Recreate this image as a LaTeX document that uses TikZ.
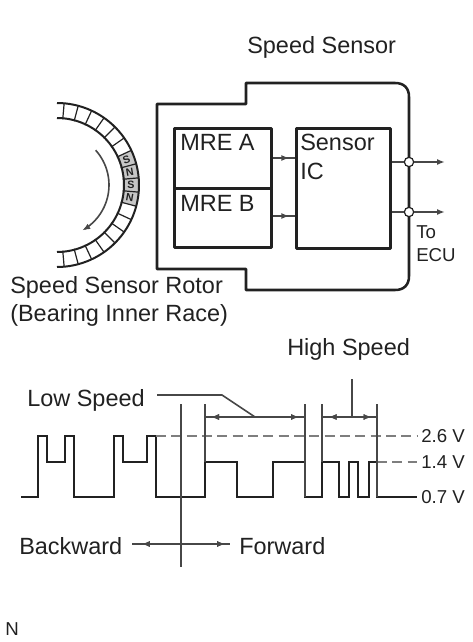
\documentclass[tikz,border=0pt]{standalone}
\usepackage{fontspec}
\setmainfont{Liberation Sans}
\usetikzlibrary{arrows.meta,decorations.markings}
\definecolor{inkdark}{gray}{0.13}
\definecolor{inkthin}{gray}{0.28}
\tikzset{
  heavy/.style={draw=inkdark,line width=1.9pt,line join=round},
  wave/.style={draw=inkdark,line width=1.8pt,line join=miter},
  thin line/.style={draw=inkthin,line width=1.2pt},
  level/.style={draw=inkthin!70,line width=1.4pt,dash pattern=on 7.5pt off 4pt},
  blockbox/.style={heavy,rectangle,inner sep=0pt},
  bigtxt/.style={text=inkdark,font=\fontsize{17.6}{20}\selectfont,inner sep=0pt,anchor=west},
  smalltxt/.style={text=inkdark,font=\fontsize{14}{16}\selectfont,inner sep=0pt,anchor=west},
  pole/.style={text=inkdark,font=\fontsize{8}{9}\selectfont\bfseries,inner sep=0pt},
  head/.style={-{Latex[length=6pt,width=4.5pt]}},
  midtip/.style={postaction={decorate},decoration={markings,mark=at position #1 with {\arrow{Latex[length=6pt,width=4.5pt]}}}},
  midback/.style={postaction={decorate},decoration={markings,mark=at position #1 with {\arrowreversed{Latex[length=6pt,width=4.5pt]}}}},
  joint/.style={circle,draw=inkdark,fill=white,line width=0.9pt,minimum size=7pt,inner sep=0pt}
}
\begin{document}
\begin{tikzpicture}[x=0.75pt,y=-0.75pt]
\useasboundingbox (0,0) rectangle (472,642);
% housing
\draw[heavy] (157,104) -- (246,104) -- (246,83) -- (395,83)
  .. controls (404,83) and (409,88) .. (409,97) -- (409,276)
  .. controls (409,285) and (404,290) .. (395,290) -- (246,290)
  -- (246,269) -- (157,269) -- cycle;
% blocks
\node[blockbox,minimum width=72.75pt,minimum height=45pt,anchor=north west] (mreA) at (173,127) {};
\node[blockbox,minimum width=72.75pt,minimum height=44.25pt,anchor=north west] (mreB) at (173,187) {};
\node[blockbox,minimum width=70.5pt,minimum height=90pt,anchor=north west] (sensorIC) at (295,127) {};
\node[bigtxt] (txtA) at (180,142) {MRE A};
\node[bigtxt] (txtB) at (180,203) {MRE B};
\node[bigtxt] (txtS) at (300,142) {Sensor};
\node[bigtxt] (txtI) at (300,171) {IC};
\node[bigtxt] (title) at (247,47) {Speed Sensor};
\draw[thin line,midtip=0.75] (mreA.east |- 0,158) -- (sensorIC.west |- 0,158);
\draw[thin line,midtip=0.75] (mreB.east |- 0,216) -- (sensorIC.west |- 0,216);
% outputs
\coordinate (outA) at (445,162);
\coordinate (outB) at (445,212);
\node[joint] (jointA) at (409,162) {};
\node[joint] (jointB) at (409,212) {};
\draw[thin line] (sensorIC.east |- outA) -- (jointA);
\draw[thin line] (sensorIC.east |- outB) -- (jointB);
\draw[thin line,head] (jointA) -- (outA);
\draw[thin line,head] (jointB) -- (outB);
\node[smalltxt] (txtTo) at (416,232) {To};
\node[smalltxt] (txtEcu) at (416,255) {ECU};
% rotor
\begin{scope}[shift={(57,185)}]
\fill[gray!45] plot[domain=-25:15,samples=12] ({82*cos(\x)},{82*sin(\x)})
  -- plot[domain=15:-25,samples=12] ({66*cos(\x)},{66*sin(\x)}) -- cycle;
\draw[heavy,line width=1.5pt] plot[domain=-90:90,samples=60] ({82*cos(\x)},{82*sin(\x)});
\draw[heavy,line width=1.5pt] plot[domain=-90:90,samples=60] ({67*cos(\x)},{67*sin(\x)});
\foreach \a in {-85,-75,...,85}
  \draw[inkdark,line width=0.9pt] (\a:66) -- (\a:82);
\node[pole,rotate=20] (poleA) at (-20:74) {S};
\node[pole,rotate=10] (poleB) at (-10:74) {N};
\node[pole] (poleC) at (0:74) {S};
\node[pole,rotate=-10] (poleD) at (10:74) {N};
\draw[thin line,head] plot[domain=-42:61,samples=30] ({52*cos(\x)},{52*sin(\x)});
\end{scope}
\node[bigtxt] (txtRotor) at (10,287) {Speed Sensor Rotor};
\node[bigtxt] (txtRace) at (10,315) {(Bearing Inner Race)};
% waveform
\draw[wave] (21,497) -- (38,497) -- (38,436) -- (47,436) -- (47,462) -- (65,462) -- (65,436)
  -- (74,436) -- (74,497) -- (114,497) -- (114,436) -- (123,436) -- (123,462) -- (147,462)
  -- (147,436) -- (156,436) -- (156,497) -- (205,497) -- (205,462) -- (237,462) -- (237,497)
  -- (273,497) -- (273,462) -- (305,462) -- (305,497) -- (322,497) -- (322,462) -- (339,462)
  -- (339,497) -- (349,497) -- (349,462) -- (358,462) -- (358,497) -- (369,497) -- (369,462)
  -- (377,462) -- (377,497) -- (417,497);
\draw[level] (156,436) -- (417,436);
\draw[level] (377,462) -- (417,462);
\node[smalltxt] (lvlHigh) at (421,436) {2.6 V};
\node[smalltxt] (lvlMid) at (421,462) {1.4 V};
\node[smalltxt] (lvlLow) at (421,497) {0.7 V};
% markers
\draw[thin line] (181,404) -- (181,567);
\draw[thin line] (205,404) -- (205,462);
\draw[thin line] (305,404) -- (305,497);
\draw[thin line] (322,404) -- (322,462);
\draw[thin line] (377,404) -- (377,497);
\coordinate (lowL) at (205,417);
\coordinate (lowR) at (305,417);
\coordinate (highL) at (322,417);
\coordinate (highR) at (377,417);
\draw[thin line,midback=0.06,midtip=0.94] (lowL) -- (lowR);
\draw[thin line,midback=0.12,midtip=0.9] (highL) -- (highR);
\node[bigtxt] (txtLow) at (27,400) {Low Speed};
\node[bigtxt] (txtHigh) at (287,349) {High Speed};
\coordinate (lowLead) at (255,417);
\coordinate (highLead) at (352,417);
\draw[thin line] (157,395) -- (222,395) -- (lowLead);
\draw[thin line] (352,379) -- (highLead);
% direction
\node[bigtxt] (txtBack) at (19,546) {Backward};
\node[bigtxt] (txtFwd) at (239,546) {Forward};
\coordinate (dirL) at (132,544);
\coordinate (dirR) at (230,544);
\draw[thin line,midback=0.1,midtip=0.95] (dirL) -- (dirR);
\node[smalltxt] (txtN) at (5,629) {N};
\end{tikzpicture}
\end{document}
